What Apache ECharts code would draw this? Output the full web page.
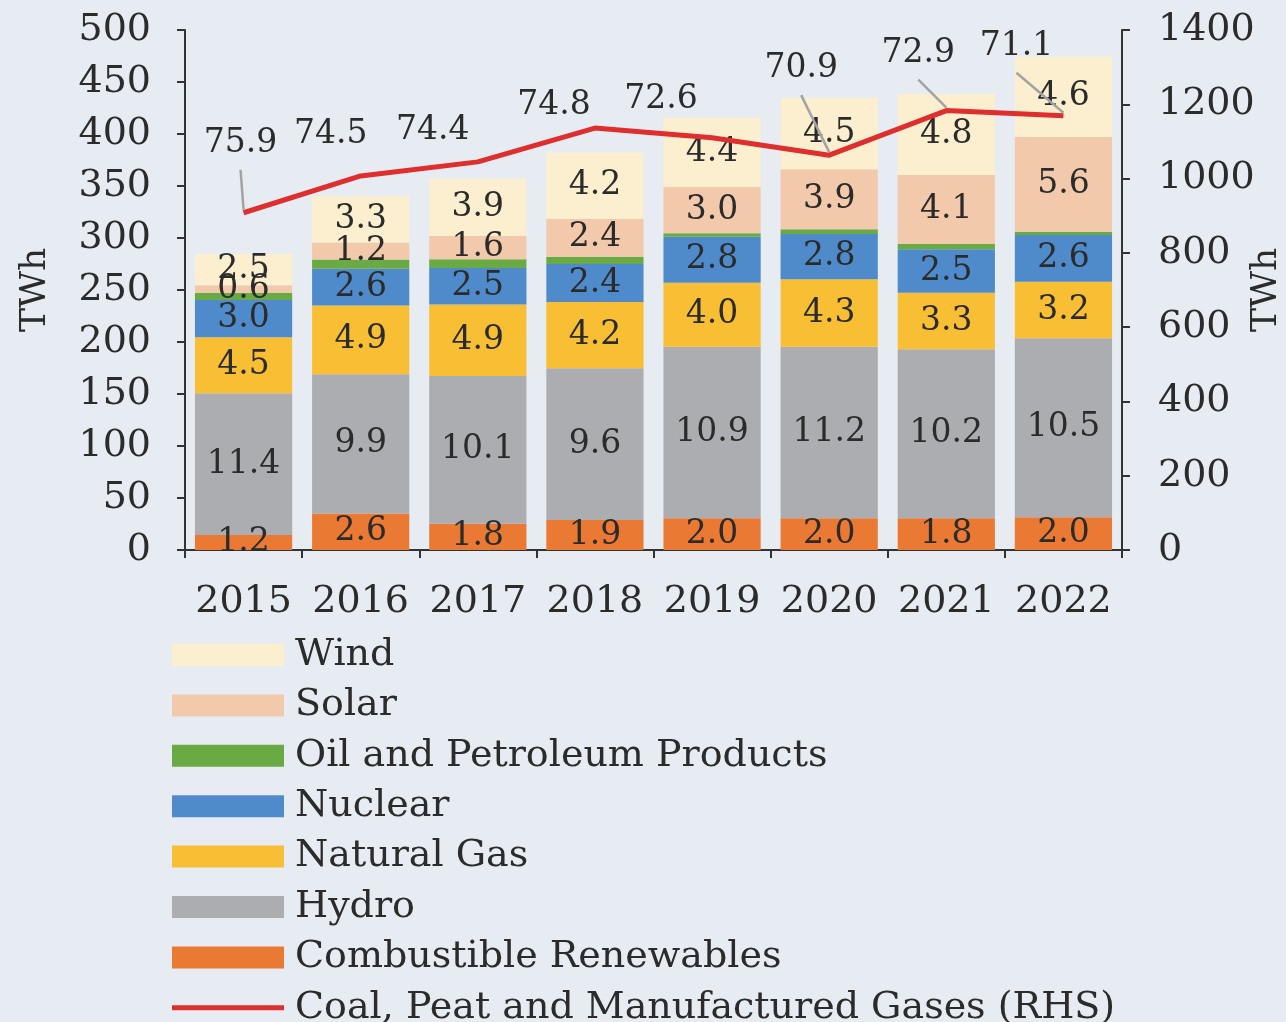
<!DOCTYPE html>
<html>
<head>
<meta charset="utf-8">
<script src="https://cdn.jsdelivr.net/npm/echarts@6/dist/echarts.min.js"></script>
<style>
html, body { margin: 0; padding: 0; background: #e7ebf2; }
#chart { width: 1286px; height: 1022px; }
</style>
</head>
<body>
<div id="chart"></div>
<script>
// 年份
var years = ['2015', '2016', '2017', '2018', '2019', '2020', '2021', '2022'];

// 柱子高度 (TWh, 左轴)
var combustible = [14.4, 35.2, 25.3, 28.9, 30.5, 30.5, 30.5, 31.4];
var hydro = [136.3, 133.8, 141.9, 145.8, 165.0, 165.0, 162.5, 172.1];
var gas = [53.8, 66.2, 68.8, 63.8, 61.5, 64.8, 54.4, 54.5];
var nuclear = [35.9, 35.2, 35.1, 36.5, 44.3, 43.5, 41.7, 44.9];
var oil = [7.0, 9.0, 8.5, 7.0, 3.2, 4.6, 5.1, 3.1];
var solar = [7.2, 16.2, 22.5, 36.5, 44.8, 57.6, 66.4, 91.4];
var wind = [29.9, 44.6, 54.8, 63.8, 66.1, 68.6, 77.9, 76.9];
// 煤电 (TWh, 右轴)
var coal = [908, 1007, 1045, 1136, 1110, 1063, 1183, 1169];

// 标签上显示的占比 (%)
var combShare = [1.2, 2.6, 1.8, 1.9, 2.0, 2.0, 1.8, 2.0];
var hydroShare = [11.4, 9.9, 10.1, 9.6, 10.9, 11.2, 10.2, 10.5];
var gasShare = [4.5, 4.9, 4.9, 4.2, 4.0, 4.3, 3.3, 3.2];
var nuclearShare = [3.0, 2.6, 2.5, 2.4, 2.8, 2.8, 2.5, 2.6];
var solarShare = [0.6, 1.2, 1.6, 2.4, 3.0, 3.9, 4.1, 5.6];
var windShare = [2.5, 3.3, 3.9, 4.2, 4.4, 4.5, 4.8, 4.6];
var coalShare = [75.9, 74.5, 74.4, 74.8, 72.6, 70.9, 72.9, 71.1];

var leftTicks = [0, 500, 50];
var rightTicks = [0, 1400, 200];

var FONT = '"DejaVu Serif", serif';
var TXT = '#2b2b2b';
var COAL_NAME = 'Coal, Peat and Manufactured Gases (RHS)';

function barSeries(name, values, shares, color){
    return {
        name: name,
        type: 'bar',
        stack: 'mix',
        barCategoryGap: '17%',
        data: values,
        itemStyle: { color: color },
        label: {
            show: shares != null,
            position: 'inside',
            fontFamily: FONT,
            fontSize: 33,
            color: TXT,
            formatter: function(p){
                return shares[p.dataIndex].toFixed(1);
            }
        },
        emphasis: { disabled: true }
    };
}

// 煤电标签偏移 (像素)
var coalDx = [-3, -30, -45, -41, -51, -28, -28, -47];
var coalDy = [-48, -20, -10, -1, -17, -65, -36, -48];
// 哪些标签带引线
var coalLeader = [true, false, false, false, false, true, true, true];

var leaderData = [];
for (var i = 0; i < coal.length; i++) {
    if (coalLeader[i]) leaderData.push([i, coal[i]]);
}

var chart = echarts.init(document.getElementById('chart'));

var option = {
    backgroundColor: '#e7ebf2',
    animation: false,
    textStyle: { fontFamily: FONT },
    grid: { left: 185, right: 164, top: 30, bottom: 472, outerBoundsMode: 'none' },
    legend: {
        orient: 'vertical',
        left: 172,
        top: 636,
        height: 420,
        padding: 0,
        itemWidth: 112,
        itemHeight: 22,
        itemGap: 12.4,
        textStyle: {
            fontFamily: FONT,
            fontSize: 38,
            color: TXT,
            lineHeight: 38,
            padding: [0, 0, 0, 6]
        },
        data: [
            { name: 'Wind', icon: 'rect' },
            { name: 'Solar', icon: 'rect' },
            { name: 'Oil and Petroleum Products', icon: 'rect' },
            { name: 'Nuclear', icon: 'rect' },
            { name: 'Natural Gas', icon: 'rect' },
            { name: 'Hydro', icon: 'rect' },
            { name: 'Combustible Renewables', icon: 'rect' },
            { name: COAL_NAME, icon: 'path://M0,0 L112,0 L112,5 L0,5 Z' }
        ]
    },
    xAxis: {
        type: 'category',
        data: years,
        axisLine: { lineStyle: { color: '#333', width: 2 } },
        axisTick: { show: true, length: 8, lineStyle: { color: '#333', width: 2 } },
        axisLabel: { interval: 0, fontFamily: FONT, fontSize: 38, color: TXT, margin: 33 }
    },
    yAxis: [{
        type: 'value',
        min: leftTicks[0],
        max: leftTicks[1],
        interval: leftTicks[2],
        name: 'TWh',
        nameLocation: 'middle',
        nameGap: 131,
        nameRotate: 90,
        nameMoveOverlap: false,
        nameTextStyle: { fontFamily: FONT, fontSize: 36, color: TXT },
        axisLine: { show: true, lineStyle: { color: '#333', width: 2 } },
        axisTick: { show: true, length: 8, lineStyle: { color: '#333', width: 2 } },
        splitLine: { show: false },
        axisLabel: { fontFamily: FONT, fontSize: 38, color: TXT, margin: 34 }
    }, {
        type: 'value',
        position: 'right',
        min: rightTicks[0],
        max: rightTicks[1],
        interval: rightTicks[2],
        name: 'TWh',
        nameLocation: 'middle',
        nameGap: 127,
        nameRotate: 90,
        nameMoveOverlap: false,
        nameTextStyle: { fontFamily: FONT, fontSize: 36, color: TXT },
        axisLine: { show: true, lineStyle: { color: '#333', width: 2 } },
        axisTick: { show: true, length: 8, lineStyle: { color: '#333', width: 2 } },
        splitLine: { show: false },
        axisLabel: {
            fontFamily: FONT, fontSize: 38, color: TXT, margin: 36,
            formatter: function(v){ return String(v); }
        }
    }],
    series: [
        barSeries('Combustible Renewables', combustible, combShare, '#ea7a33'),
        barSeries('Hydro', hydro, hydroShare, '#abadb0'),
        barSeries('Natural Gas', gas, gasShare, '#f8bf35'),
        barSeries('Nuclear', nuclear, nuclearShare, '#4f8bcb'),
        barSeries('Oil and Petroleum Products', oil, null, '#6aaa45'),
        barSeries('Solar', solar, solarShare, '#f2c9aa'),
        barSeries('Wind', wind, windShare, '#fcefcf'),
        {
            name: COAL_NAME,
            type: 'line',
            yAxisIndex: 1,
            data: coal,
            symbol: 'circle',
            symbolSize: 0,
            showSymbol: true,
            z: 3,
            lineStyle: { color: '#de2e2e', width: 5 },
            itemStyle: { color: '#de2e2e' },
            label: {
                show: true,
                position: 'top',
                fontFamily: FONT,
                fontSize: 33,
                color: TXT,
                formatter: function(p){
                    return coalShare[p.dataIndex].toFixed(1);
                }
            },
            labelLayout: function(p){
                return { dx: coalDx[p.dataIndex], dy: coalDy[p.dataIndex] };
            },
            emphasis: { disabled: true }
        },
        {
            // 标签引线
            name: 'leader',
            type: 'custom',
            yAxisIndex: 1,
            silent: true,
            z: 4,
            data: leaderData,
            renderItem: function(params, api){
                var idx = api.value(0);
                var pt = api.coord([idx, api.value(1)]);
                var sx = pt[0] + coalDx[idx];
                var sy = pt[1] - 5 + coalDy[idx] + 10;
                return {
                    type: 'line',
                    shape: { x1: sx, y1: sy, x2: pt[0], y2: pt[1] - 3 },
                    style: { stroke: '#a3a3a3', lineWidth: 2.5 }
                };
            }
        }
    ]
};

chart.setOption(option);
</script>
</body>
</html>
